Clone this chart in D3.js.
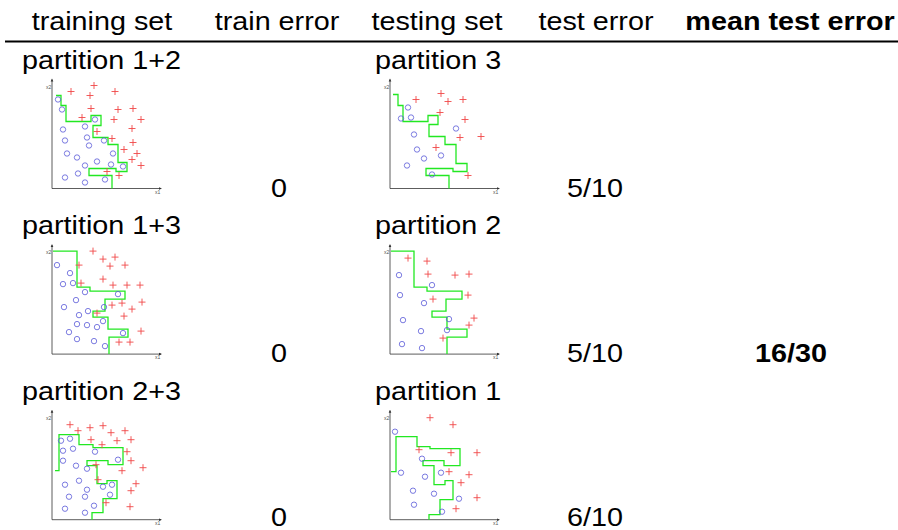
<!DOCTYPE html>
<html>
<head>
<meta charset="utf-8">
<script src="https://cdn.jsdelivr.net/npm/d3@7"></script>
<style>
  body { margin: 0; background: #fff; }
  text { font-family: "Liberation Sans", Arial, Helvetica, sans-serif; }
</style>
</head>
<body>
<div id="chart"></div>
<script>
// table texts
const headers = ["training set", "train error", "testing set", "test error", "mean test error"];
const trainSets = ["partition 1+2", "partition 1+3", "partition 2+3"];
const testSets = ["partition 3", "partition 2", "partition 1"];
const trainErrors = ["0", "0", "0"];
const testErrors = ["5/10", "5/10", "6/10"];
const meanTestError = "16/30";

// scatter data [x1, x2], one set per small plot
const train12Circles = [[6,89],[10,79],[43,69],[33,62],[11,59],[35,51],[13,48],[52,48],[37,43],[61,35],[15,35],[25,31],[45,27],[33,23],[59,24],[71,22],[26,15],[13,11],[53,9],[33,6]];
const train12Crosses = [[42,103],[63,97],[19,97],[38,93],[39,80],[66,79],[81,80],[30,71],[62,69],[89,69],[45,57],[80,60],[60,50],[81,46],[72,39],[85,35],[80,29],[89,23],[55,17],[67,13]];
const train12Boundary = [[4,93],[9,93],[9,83],[14,83],[14,67],[39,67],[39,73],[49,73],[49,63],[41,63],[41,51],[56,51],[56,44],[66,44],[66,26],[75,26],[75,17],[64,17],[64,20],[37,20],[37,13],[60,13],[60,0]];

const test3Circles = [[18,81],[11,70],[21,71],[66,60],[24,54],[27,39],[51,33],[34,30],[17,23],[42,14]];
const test3Crosses = [[51,95],[26,89],[58,87],[73,89],[50,76],[75,69],[70,51],[91,52],[46,41],[78,13]];
const test3Boundary = [[3,94],[8,94],[8,83],[13,83],[13,67],[38,67],[38,73],[48,73],[48,64],[39,64],[39,52],[55,52],[55,44],[66,44],[66,25],[77,25],[77,17],[63,17],[63,20],[36,20],[36,13],[59,13],[59,0]];

const train13Circles = [[5,89],[18,81],[11,70],[21,71],[33,62],[66,60],[24,54],[12,47],[52,47],[36,43],[27,39],[51,33],[25,30],[35,29],[45,27],[17,22],[71,21],[25,15],[42,13],[53,8]];
const train13Crosses = [[41,103],[63,97],[51,95],[58,88],[27,89],[73,89],[51,75],[29,71],[61,69],[75,69],[88,69],[90,52],[70,51],[60,49],[80,45],[45,41],[72,38],[89,23],[67,12],[78,12]];
const train13Boundary = [[1,103],[25,103],[25,67],[38,67],[38,63],[73,63],[73,55],[53,55],[53,43],[41,43],[41,37],[56,37],[56,25],[76,25],[76,17],[57,17],[57,0]];

const test2Circles = [[9,79],[42,69],[10,59],[34,51],[13,34],[59,35],[31,23],[57,24],[12,10],[32,6]];
const test2Crosses = [[18,96],[37,93],[38,80],[65,79],[79,80],[43,55],[78,59],[84,36],[79,29],[53,16]];
const test2Boundary = [[1,103],[24,103],[24,67],[37,67],[37,63],[72,63],[72,55],[56,55],[56,43],[42,43],[42,37],[57,37],[57,25],[77,25],[77,17],[57,17],[57,0]];

const train23Circles = [[9,79],[18,81],[11,69],[21,71],[43,68],[11,59],[66,60],[24,54],[35,51],[27,39],[51,33],[60,35],[13,35],[35,30],[17,23],[33,23],[58,25],[42,14],[13,11],[33,7]];
const train23Crosses = [[18,95],[26,89],[38,92],[51,94],[59,87],[73,89],[39,80],[65,79],[79,80],[50,75],[75,68],[79,59],[91,52],[44,55],[70,49],[46,40],[84,36],[79,29],[54,17],[78,13]];
const train23Boundary = [[3,49],[7,49],[7,85],[27,85],[27,75],[41,75],[41,72],[71,72],[71,55],[56,55],[56,59],[35,59],[35,54],[45,54],[45,36],[55,36],[55,39],[65,39],[65,21],[51,21],[51,7],[40,7],[40,0]];

const test1Circles = [[5,88],[32,61],[11,47],[35,43],[51,47],[23,29],[44,26],[69,21],[24,15],[52,8]];
const test1Crosses = [[40,102],[63,95],[29,70],[61,67],[87,67],[59,48],[79,45],[71,37],[87,22],[66,11]];
const test1Boundary = [[1,48],[6,48],[6,83],[27,83],[27,73],[40,73],[40,71],[70,71],[70,54],[54,54],[54,59],[33,59],[33,54],[44,54],[44,35],[55,35],[55,39],[63,39],[63,20],[50,20],[50,5],[39,5],[39,0]];

const plots = [
  { col: 0, row: 0, circles: train12Circles, crosses: train12Crosses, boundary: train12Boundary },
  { col: 1, row: 0, circles: test3Circles, crosses: test3Crosses, boundary: test3Boundary },
  { col: 0, row: 1, circles: train13Circles, crosses: train13Crosses, boundary: train13Boundary },
  { col: 1, row: 1, circles: test2Circles, crosses: test2Crosses, boundary: test2Boundary },
  { col: 0, row: 2, circles: train23Circles, crosses: train23Crosses, boundary: train23Boundary },
  { col: 1, row: 2, circles: test1Circles, crosses: test1Crosses, boundary: test1Boundary }
];

var width = 898, height = 530;
var rowStep = 165.6, numStep = 164.5;
var colX = [102, 277, 437, 596, 790];
var fontSize = 25, stretch = 1.15;

var svg = d3.select("#chart").append("svg")
  .attr("width", width)
  .attr("height", height);

function label(x, y, str, anchor, bold) {
  svg.append("text")
    .attr("transform", "translate(" + x + "," + y + ") scale(" + stretch + ",1)")
    .attr("text-anchor", anchor)
    .style("font-size", fontSize + "px")
    .style("font-weight", bold ? "bold" : "normal")
    .attr("fill", "#000")
    .text(str);
}

// header
headers.forEach(function (h, i) {
  label(colX[i], 29.5, h, "middle", i == 4);
});
svg.append("line")
  .attr("x1", 5).attr("x2", width)
  .attr("y1", 41.5).attr("y2", 41.5)
  .attr("stroke", "#000")
  .attr("stroke-width", 1.8);

// rows
trainSets.forEach(function (t, i) {
  var y0 = i * rowStep;
  label(22, 68.5 + y0, t, "start");
  label(375, 68.5 + y0, testSets[i], "start");
  label(colX[1] + 2, 197 + i * numStep, trainErrors[i], "middle");
  label(colX[3] - 1, 197 + i * numStep, testErrors[i], "middle");
});
label(colX[4] + 1, 197 + numStep, meanTestError, "middle", true);

// small scatter plots
var x = d3.scaleLinear().domain([0, 110]).range([0, 110]);
var y = d3.scaleLinear().domain([0, 110]).range([0, -110]);
var originX = [52, 390];
var originY = 188.5;

var line = d3.line()
  .x(function (d) { return x(d[0]); })
  .y(function (d) { return y(d[1]); });

plots.forEach(function (p) {
  var g = svg.append("g")
    .attr("transform", "translate(" + originX[p.col] + "," + (originY + p.row * rowStep) + ")");

  // axes with arrow heads
  g.append("path")
    .attr("d", "M0,0H" + x(109) + "M0,0V" + y(109))
    .attr("fill", "none")
    .attr("stroke", "#333")
    .attr("stroke-width", 0.8);
  g.append("path")
    .attr("d", "M" + x(110) + ",0l-3,-1.3v2.6z M0," + y(110) + "l-1.3,3h2.6z")
    .attr("fill", "#333");
  g.append("text")
    .attr("x", x(103)).attr("y", 5)
    .style("font-size", "5px").attr("fill", "#555")
    .text("x1");
  g.append("text")
    .attr("x", -6).attr("y", y(100))
    .style("font-size", "5px").attr("fill", "#555")
    .text("x2");

  g.append("path")
    .attr("d", line(p.boundary))
    .attr("fill", "none")
    .attr("stroke", "#22e822")
    .attr("stroke-width", 1.3);

  g.selectAll(".dot")
    .data(p.circles)
    .enter().append("circle")
    .attr("class", "dot")
    .attr("cx", function (d) { return x(d[0]); })
    .attr("cy", function (d) { return y(d[1]); })
    .attr("r", 2.7)
    .attr("fill", "none")
    .attr("stroke", "#5a5ad8")
    .attr("stroke-width", 0.8);

  g.selectAll(".cross")
    .data(p.crosses)
    .enter().append("path")
    .attr("class", "cross")
    .attr("d", function (d) {
      var cx = x(d[0]), cy = y(d[1]);
      return "M" + (cx - 3.5) + "," + cy + "H" + (cx + 3.5) + "M" + cx + "," + (cy - 3.5) + "V" + (cy + 3.5);
    })
    .attr("stroke", "#f04848")
    .attr("stroke-width", 0.9);
});
</script>
</body>
</html>
